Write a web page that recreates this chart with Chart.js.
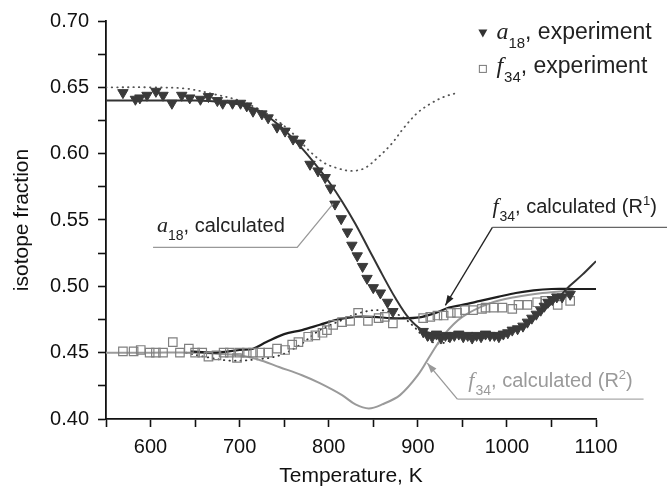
<!DOCTYPE html>
<html><head><meta charset="utf-8">
<script src="https://cdn.jsdelivr.net/npm/chart.js@4.4.0/dist/chart.umd.min.js"></script>
<style>html,body{margin:0;padding:0;background:#fff}#wrap{width:667px;height:486px}</style>
</head><body><div id="wrap"><canvas id="c" width="667" height="486"></canvas></div>
<script>
// ---- data ----
const a18ExpT = [569,583,588,596,606,614,624,635,644,656,665,675,681,692,701,708,715,725,732,742,751,760,768,779,788,796,802,807,814,821,826,832,838,843,850,858,866,872,906,911,916,921,926,931,936,941,946,951,956,961,966,971,976,981,986,991,996,1001,1006,1012,1018,1023,1028,1033,1038,1042,1046,1051,1056,1062,1071];
const a18ExpV = [0.646,0.641,0.642,0.644,0.647,0.644,0.638,0.644,0.642,0.641,0.643,0.640,0.638,0.638,0.638,0.636,0.632,0.630,0.627,0.620,0.617,0.611,0.608,0.592,0.587,0.582,0.574,0.562,0.551,0.541,0.531,0.523,0.515,0.506,0.499,0.495,0.488,0.481,0.466,0.463,0.462,0.464,0.461,0.463,0.462,0.463,0.464,0.462,0.463,0.461,0.463,0.462,0.464,0.463,0.463,0.462,0.464,0.465,0.467,0.468,0.470,0.473,0.476,0.479,0.482,0.485,0.488,0.490,0.492,0.492,0.494];

const f34ExpT = [569,581,589,599,606,614,625,633,643,650,658,665,674,682,689,697,700,708,715,723,732,742,751,759,766,777,785,793,798,805,815,824,833,844,856,863,872,906,914,922,929,937,944,953,962,972,976,985,995,1006,1013,1023,1034,1043,1057,1071];
const f34ExpV = [0.451,0.451,0.452,0.450,0.450,0.450,0.458,0.450,0.453,0.450,0.450,0.447,0.448,0.450,0.450,0.446,0.450,0.450,0.450,0.450,0.450,0.453,0.452,0.456,0.458,0.462,0.463,0.465,0.467,0.471,0.473,0.474,0.480,0.474,0.476,0.477,0.472,0.476,0.477,0.478,0.478,0.480,0.480,0.482,0.482,0.483,0.484,0.484,0.484,0.483,0.486,0.486,0.488,0.489,0.486,0.489];

const a18CalcT = [550,600,650,680,700,720,730,750,770,785,800,815,830,845,860,875,890,905,920,950,980,1000,1020,1040,1060,1070,1085,1100];
const a18CalcV = [0.640,0.640,0.640,0.639,0.637,0.633,0.629,0.618,0.604,0.592,0.579,0.564,0.547,0.528,0.509,0.491,0.476,0.467,0.464,0.463,0.463,0.465,0.470,0.481,0.493,0.500,0.509,0.519];

const a18DotT = [550,600,640,670,700,720,740,760,780,795,810,825,840,855,870,885,900,915,930,945];
const a18DotV = [0.650,0.650,0.649,0.645,0.640,0.634,0.626,0.615,0.601,0.593,0.589,0.587,0.589,0.597,0.607,0.620,0.631,0.638,0.643,0.646];

const f34R1T = [645,670,700,715,730,750,770,790,810,830,850,870,890,905,920,935,950,970,990,1010,1030,1050,1075,1100];
const f34R1V = [0.451,0.450,0.452,0.453,0.458,0.464,0.467,0.471,0.475,0.477,0.477,0.476,0.476,0.477,0.480,0.484,0.486,0.489,0.492,0.495,0.497,0.498,0.498,0.498];

const f34R2T = [550,600,650,680,700,720,745,770,790,815,830,845,860,880,900,915,930,950,980,1010,1040,1075];
const f34R2V = [0.450,0.450,0.450,0.449,0.448,0.445,0.439,0.433,0.427,0.418,0.411,0.408,0.411,0.418,0.433,0.449,0.464,0.477,0.487,0.492,0.495,0.497];

const f34DotT = [640,660,690,720,745,768,790,813,835,858,880,895,910,925,940];
const f34DotV = [0.450,0.447,0.444,0.445,0.448,0.456,0.467,0.474,0.480,0.482,0.478,0.470,0.460,0.457,0.460];

const xTickLabels = [600,700,800,900,1000,1100];
const yTickLabels = [0.40,0.45,0.50,0.55,0.60,0.65,0.70];

const zip = (t, v) => t.map((x, i) => ({x, y: v[i]}));

const SANS = '"Liberation Sans", Arial, sans-serif';
const SERIF = '"Liberation Serif", "Times New Roman", serif';

function rich(ctx, x, y, segs, color) {
  ctx.save();
  ctx.textBaseline = 'alphabetic';
  ctx.textAlign = 'left';
  let cx = x;
  for (const s of segs) {
    ctx.font = s.f;
    ctx.fillStyle = s.c || color;
    ctx.fillText(s.t, cx, y + (s.dy || 0));
    cx += ctx.measureText(s.t).width + (s.kern || 0);
  }
  ctx.restore();
}
function arrow(ctx, x1, y1, x2, y2, color, w) {
  ctx.save();
  ctx.strokeStyle = color; ctx.fillStyle = color; ctx.lineWidth = w;
  ctx.beginPath(); ctx.moveTo(x1, y1); ctx.lineTo(x2, y2); ctx.stroke();
  const a = Math.atan2(y2 - y1, x2 - x1), L = 10, H = 3.5;
  ctx.beginPath();
  ctx.moveTo(x2, y2);
  ctx.lineTo(x2 - L*Math.cos(a) + H*Math.sin(a), y2 - L*Math.sin(a) - H*Math.cos(a));
  ctx.lineTo(x2 - L*Math.cos(a) - H*Math.sin(a), y2 - L*Math.sin(a) + H*Math.cos(a));
  ctx.closePath(); ctx.fill();
  ctx.restore();
}

const decor = {
  id: 'decor',
  afterDraw(chart) {
    const ctx = chart.ctx, X = chart.scales.x, Y = chart.scales.y;
    const px = v => X.getPixelForValue(v), py = v => Y.getPixelForValue(v);
    const it = n => 'italic ' + n + 'px ' + SERIF;
    const sn = n => n + 'px ' + SANS;

    // legend
    ctx.save();
    ctx.fillStyle = '#333';
    const tx = px(973), ty = py(0.691);
    ctx.beginPath(); ctx.moveTo(tx - 4.5, ty - 3.5); ctx.lineTo(tx + 4.5, ty - 3.5); ctx.lineTo(tx, ty + 4.5); ctx.closePath(); ctx.fill();
    ctx.strokeStyle = '#777'; ctx.lineWidth = 1;
    const sy = py(0.6639);
    ctx.strokeRect(tx - 3.5, sy - 3.5, 7, 7);
    ctx.restore();
    rich(ctx, px(988.2), py(0.6865), [
      {t: 'a', f: it(24)}, {t: '18', f: sn(15), dy: 9}, {t: ', experiment', f: sn(23)}], '#222');
    rich(ctx, px(988.2), py(0.6609), [
      {t: 'f', f: it(24), kern: 1}, {t: '34', f: sn(15), dy: 9}, {t: ', experiment', f: sn(23)}], '#222');

    // a18 calculated label
    rich(ctx, px(607.3), py(0.5406), [
      {t: 'a', f: it(22)}, {t: '18', f: sn(14), dy: 8}, {t: ', calculated', f: sn(20)}], '#222');
    ctx.save();
    ctx.strokeStyle = '#999'; ctx.lineWidth = 1.3;
    ctx.beginPath();
    ctx.moveTo(px(602.8), py(0.5293)); ctx.lineTo(px(764.6), py(0.5293)); ctx.lineTo(px(805), py(0.5624));
    ctx.stroke();
    ctx.restore();

    // f34 R1 label
    rich(ctx, px(983.7), py(0.5549), [
      {t: 'f', f: it(22), kern: 1}, {t: '34', f: sn(14), dy: 8}, {t: ', calculated (R', f: sn(20)},
      {t: '1', f: sn(13), dy: -8}, {t: ')', f: sn(20)}], '#222');
    ctx.save();
    ctx.strokeStyle = '#666'; ctx.lineWidth = 1.3;
    ctx.beginPath(); ctx.moveTo(px(983.7), py(0.5444)); ctx.lineTo(px(1180), py(0.5444)); ctx.stroke();
    ctx.restore();
    arrow(ctx, px(983.7), py(0.5444), px(930.9), py(0.4857), '#222', 1.3);

    // f34 R2 label
    rich(ctx, px(956.7), py(0.4241), [
      {t: 'f', f: it(22), kern: 1}, {t: '34', f: sn(14), dy: 8}, {t: ', calculated (R', f: sn(20)},
      {t: '2', f: sn(13), dy: -8}, {t: ')', f: sn(20)}], '#9a9a9a');
    ctx.save();
    ctx.strokeStyle = '#aaa'; ctx.lineWidth = 1.3;
    ctx.beginPath(); ctx.moveTo(px(944.4), py(0.4150)); ctx.lineTo(px(1153.4), py(0.4150)); ctx.stroke();
    ctx.restore();
    arrow(ctx, px(944.4), py(0.4150), px(910.7), py(0.4421), '#999', 1.3);
  }
};

const lineDs = (label, t, v, color, width, dash) => ({
  label, data: zip(t, v), showLine: true, pointRadius: 0, borderColor: color,
  borderWidth: width, borderDash: dash || [], tension: 0.35, fill: false,
  borderCapStyle: dash ? 'round' : 'butt'
});

new Chart(document.getElementById('c'), {
  type: 'scatter',
  data: {
    datasets: [
      {label: 'a18, experiment', data: zip(a18ExpT, a18ExpV), pointStyle: 'triangle', rotation: 180,
       pointRadius: 6, backgroundColor: '#3a3a3a', borderColor: '#3a3a3a', borderWidth: 1, showLine: false},
      {label: 'f34, experiment', data: zip(f34ExpT, f34ExpV), pointStyle: 'rect',
       pointRadius: 6, backgroundColor: 'rgba(255,255,255,0)', borderColor: '#808080', borderWidth: 1.2, showLine: false},
      lineDs('a18, calculated', a18CalcT, a18CalcV, '#333', 2),
      lineDs('f34, calculated (R1)', f34R1T, f34R1V, '#1e1e1e', 2.2),
      lineDs('f34, calculated (R2)', f34R2T, f34R2V, '#9a9a9a', 2),
      lineDs('a18, dotted', a18DotT, a18DotV, '#555', 1.8, [0.5, 5]),
      lineDs('f34, dotted', f34DotT, f34DotV, '#333', 1.8, [0.5, 5])
    ]
  },
  options: {
    responsive: false, animation: false, devicePixelRatio: 1,
    layout: {padding: {left: 0, right: 71, top: 20, bottom: 0}},
    plugins: {legend: {display: false}, tooltip: {enabled: false}},
    scales: {
      x: {
        type: 'linear', min: 550, max: 1100,
        afterFit: s => { s.height = 67; },
        ticks: {stepSize: 50, autoSkip: false, maxRotation: 0, padding: 8, color: '#111',
                font: {family: SANS, size: 20},
                callback: v => xTickLabels.includes(v) ? String(v) : ''},
        grid: {drawOnChartArea: false, drawTicks: true, tickLength: 8, tickColor: '#111', tickWidth: 1.6},
        border: {color: '#111', width: 1.8},
        title: {display: true, text: 'Temperature, K', color: '#111', font: {family: SANS, size: 21, lineHeight: 0.95}, padding: {top: 0, bottom: 0}}
      },
      y: {
        type: 'linear', min: 0.40, max: 0.70,
        afterFit: s => { s.width = 106; },
        ticks: {stepSize: 0.025, autoSkip: false, padding: 9, color: '#111',
                font: {family: SANS, size: 20},
                callback: v => { const m = yTickLabels.find(t => Math.abs(t - v) < 1e-6); return m !== undefined ? m.toFixed(2) : ''; }},
        grid: {drawOnChartArea: false, drawTicks: true, tickLength: 8, tickColor: '#111', tickWidth: 1.6},
        border: {color: '#111', width: 1.8},
        title: {display: true, text: 'isotope fraction', color: '#111', font: {family: SANS, size: 21}, padding: {top: 10, bottom: 0}}
      }
    }
  },
  plugins: [decor]
});
</script></body></html>
